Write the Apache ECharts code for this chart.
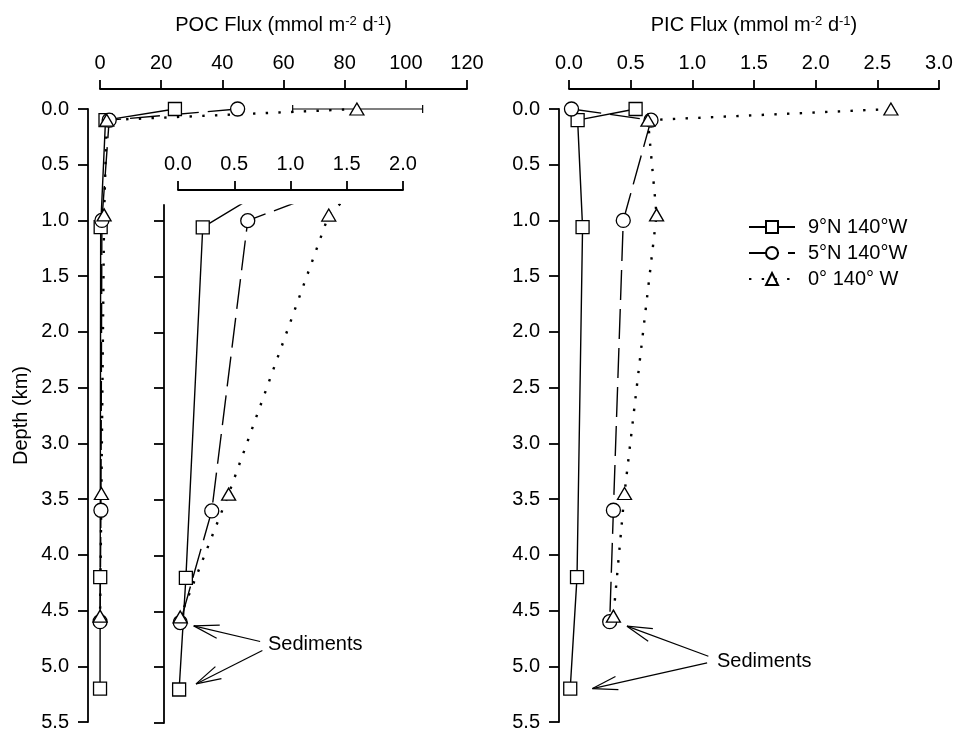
<!DOCTYPE html>
<html>
<head>
<meta charset="utf-8">
<script src="https://cdn.jsdelivr.net/npm/echarts@6/dist/echarts.min.js"></script>
<style>html,body{margin:0;padding:0;background:#fff}#chart{width:956px;height:732px}</style>
</head>
<body>
<div id="chart"></div>
<script>
// trap depths (km) for each station
const depth9N = [0.0, 0.1, 1.06, 4.2, 5.2];
const depth5N = [0.0, 0.1, 1.0, 3.6, 4.6];
const depth0 = [0.0, 0.1, 0.95, 3.45, 4.55];

// POC flux, mmol m-2 d-1
const poc9N = [24.5, 1.8, 0.22, 0.07, 0.01];
const poc5N = [45, 3.0, 0.62, 0.30, 0.02];
const poc0 = [84, 2.2, 1.34, 0.45, 0.02];
const poc0Err = [63, 105.5]; // spread at the surface trap, 0° station

// PIC flux, mmol m-2 d-1
const pic9N = [0.54, 0.07, 0.11, 0.065, 0.01];
const pic5N = [0.02, 0.665, 0.44, 0.36, 0.33];
const pic0 = [2.61, 0.64, 0.71, 0.45, 0.36];

const stations = ['9°N 140°W', '5°N 140°W', '0° 140° W'];

const pocTicks = [0, 20, 40, 60, 80, 100, 120];
const insetTicks = [0, 0.5, 1.0, 1.5, 2.0];
const picTicks = [0, 0.5, 1.0, 1.5, 2.0, 2.5, 3.0];
const depthTicks = [0, 0.5, 1.0, 1.5, 2.0, 2.5, 3.0, 3.5, 4.0, 4.5, 5.0, 5.5];
const insetDepthTop = 0.86;

// "Sediments" notes: [tailX, tailDepth, tipX, tipDepth]
const pocNoteText = [0.80, 4.80];
const pocNoteArrows = [[0.73, 4.77, 0.14, 4.63], [0.75, 4.85, 0.16, 5.15]];
const picNoteText = [1.20, 4.96];
const picNoteArrows = [[1.13, 4.91, 0.47, 4.64], [1.12, 4.97, 0.19, 5.20]];

const FONT = 'Liberation Sans, Arial, sans-serif';
const FS = 20;
const BLACK = '#000';

const looks = [
  { symbol: 'rect', size: 13, type: 'solid', width: 1.4 },
  { symbol: 'circle', size: 14, type: [30, 9], width: 1.4 },
  { symbol: 'triangle', size: [14, 12], type: [2.4, 10.3], width: 2.4 }
];

function profile(i, xs, depths, xi, yi, clip) {
  const lk = looks[i];
  return {
    name: stations[i], type: 'line', xAxisIndex: xi, yAxisIndex: yi,
    data: xs.map((v, k) => [v, depths[k]]),
    symbol: lk.symbol, symbolSize: lk.size, showSymbol: true,
    lineStyle: { color: BLACK, width: lk.width, type: lk.type },
    itemStyle: { color: '#fff', borderColor: BLACK, borderWidth: 1.3 },
    clip: clip, z: 3, animation: false
  };
}

function tickRange(t) {
  return { min: t[0], max: t[t.length - 1], interval: t[1] - t[0] };
}

const axisLine = { show: true, onZero: false, lineStyle: { color: BLACK, width: 1.8 } };
const labelStyle = { color: BLACK, fontSize: FS, fontFamily: FONT };
const fix1 = v => v.toFixed(1);

function xAx(grid, ticks, offset, fmt, name) {
  return Object.assign({
    type: 'value', gridIndex: grid, position: 'top', offset: offset,
    axisLine: axisLine, splitLine: { show: false },
    axisTick: { show: true, inside: false, length: 9, lineStyle: { color: BLACK, width: 1.8 } },
    axisLabel: Object.assign({ margin: 16, formatter: fmt }, labelStyle),
    name: name || '', nameLocation: 'middle', nameGap: 54,
    nameTextStyle: {
      color: BLACK, fontSize: FS, fontFamily: FONT,
      rich: { sup: { fontSize: 13, fontFamily: FONT, color: BLACK, verticalAlign: 'top', padding: [0, 0, 6, 0] } }
    }
  }, tickRange(ticks));
}

function yAx(grid, offset, showLabels, name) {
  return Object.assign({
    type: 'value', gridIndex: grid, inverse: true, offset: offset,
    axisLine: axisLine, splitLine: { show: false },
    axisTick: { show: true, inside: false, length: 10, lineStyle: { color: BLACK, width: 1.8 } },
    axisLabel: Object.assign({ show: showLabels, margin: 19, formatter: fix1 }, labelStyle),
    name: name || '', nameLocation: 'middle', nameGap: 57,
    nameTextStyle: { color: BLACK, fontSize: FS, fontFamily: FONT }
  }, tickRange(depthTicks));
}

const insetY = yAx(1, 14, false);
insetY.min = insetDepthTop;
delete insetY.interval;
insetY.axisTick.customValues = depthTicks.filter(d => d >= 1);

function arrowItem(params, api) {
  const tail = api.coord([api.value(0), api.value(1)]);
  const tip = api.coord([api.value(2), api.value(3)]);
  let dx = tail[0] - tip[0], dy = tail[1] - tip[1];
  const len = Math.sqrt(dx * dx + dy * dy);
  dx /= len; dy /= len;
  const arm = 26, ang = 15 * Math.PI / 180;
  const arms = [ang, -ang].map(a => [
    tip[0] + arm * (dx * Math.cos(a) - dy * Math.sin(a)),
    tip[1] + arm * (dx * Math.sin(a) + dy * Math.cos(a))
  ]);
  const st = { stroke: BLACK, lineWidth: 1.2 };
  return {
    type: 'group', children: [
      { type: 'line', shape: { x1: tail[0], y1: tail[1], x2: tip[0], y2: tip[1] }, style: st },
      { type: 'line', shape: { x1: tip[0], y1: tip[1], x2: arms[0][0], y2: arms[0][1] }, style: st },
      { type: 'line', shape: { x1: tip[0], y1: tip[1], x2: arms[1][0], y2: arms[1][1] }, style: st }
    ]
  };
}

function noteText(params, api) {
  const p = api.coord([api.value(0), api.value(1)]);
  return {
    type: 'text', x: p[0], y: p[1],
    style: { text: 'Sediments', fill: BLACK, font: FS + 'px ' + FONT, verticalAlign: 'middle', align: 'left' }
  };
}

function errBar(params, api) {
  const a = api.coord([api.value(0), api.value(2)]);
  const b = api.coord([api.value(1), api.value(2)]);
  const st = { stroke: BLACK, lineWidth: 1.2 };
  return {
    type: 'group', children: [
      { type: 'line', shape: { x1: a[0], y1: a[1], x2: b[0], y2: b[1] }, style: st },
      { type: 'line', shape: { x1: a[0], y1: a[1] - 4, x2: a[0], y2: a[1] + 4 }, style: st },
      { type: 'line', shape: { x1: b[0], y1: b[1] - 4, x2: b[0], y2: b[1] + 4 }, style: st }
    ]
  };
}

const chart = echarts.init(document.getElementById('chart'));
chart.setOption({
  backgroundColor: '#fff',
  animation: false,
  textStyle: { fontFamily: FONT },
  grid: [
    { left: 100, top: 109, width: 367, height: 614 },
    { left: 178, top: 205, width: 225, height: 518 },
    { left: 569, top: 109, width: 370, height: 614 }
  ],
  xAxis: [
    xAx(0, pocTicks, 20, v => String(v), 'POC Flux (mmol m{sup|-2} d{sup|-1})'),
    xAx(1, insetTicks, 15, fix1),
    xAx(2, picTicks, 20, fix1, 'PIC Flux (mmol m{sup|-2} d{sup|-1})')
  ],
  yAxis: [
    yAx(0, 12, true, 'Depth (km)'),
    insetY,
    yAx(2, 10, true)
  ],
  legend: {
    data: stations, orient: 'vertical', left: 743, top: 212,
    itemWidth: 46, itemHeight: 15, itemGap: 6,
    textStyle: { color: BLACK, fontSize: FS, fontFamily: FONT, padding: [0, 0, 0, 8] },
    selectedMode: false
  },
  series: [
    profile(0, pic9N, depth9N, 2, 2, false),
    profile(1, pic5N, depth5N, 2, 2, false),
    profile(2, pic0, depth0, 2, 2, false),
    profile(0, poc9N, depth9N, 0, 0, false),
    profile(1, poc5N, depth5N, 0, 0, false),
    profile(2, poc0, depth0, 0, 0, false),
    profile(0, poc9N, depth9N, 1, 1, true),
    profile(1, poc5N, depth5N, 1, 1, true),
    profile(2, poc0, depth0, 1, 1, true),
    { type: 'custom', xAxisIndex: 0, yAxisIndex: 0, renderItem: errBar, z: 2,
      data: [[poc0Err[0], poc0Err[1], depth0[0]]] },
    { type: 'custom', xAxisIndex: 1, yAxisIndex: 1, renderItem: arrowItem, data: pocNoteArrows },
    { type: 'custom', xAxisIndex: 1, yAxisIndex: 1, renderItem: noteText, data: [pocNoteText] },
    { type: 'custom', xAxisIndex: 2, yAxisIndex: 2, renderItem: arrowItem, data: picNoteArrows },
    { type: 'custom', xAxisIndex: 2, yAxisIndex: 2, renderItem: noteText, data: [picNoteText] }
  ]
});
window.addEventListener('resize', () => chart.resize());
</script>
</body>
</html>
